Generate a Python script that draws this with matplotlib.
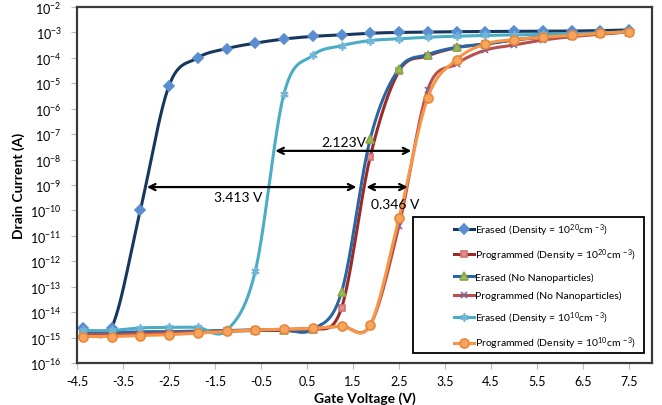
import numpy as np
import matplotlib
matplotlib.use("Agg")
import matplotlib.pyplot as plt
from matplotlib.lines import Line2D
from matplotlib.patches import Rectangle

plt.rcParams['font.family'] = ['Lato', 'DejaVu Sans']
plt.rcParams['mathtext.fontset'] = 'custom'
plt.rcParams['mathtext.rm'] = 'Lato'
plt.rcParams['mathtext.it'] = 'Lato:italic'
plt.rcParams['mathtext.bf'] = 'Lato:bold'

# gate voltage of every measured point (V)
gate_v = [-4.375, -3.75, -3.125, -2.5, -1.875, -1.25, -0.625, 0.0, 0.625, 1.25,
          1.875, 2.5, 3.125, 3.75, 4.375, 5.0, 5.625, 6.25, 6.875, 7.5]

# drain current (A)
erased_1e20 = [2.3e-15, 2.4e-15, 1.0e-10, 8.0e-6, 1.0e-4, 2.3e-4, 3.8e-4, 5.5e-4, 7.0e-4, 8.0e-4,
               9.3e-4, 1.0e-3, 1.02e-3, 1.07e-3, 1.08e-3, 1.1e-3, 1.12e-3, 1.13e-3, 1.18e-3, 1.25e-3]
prog_1e20 = [1.4e-15, 1.4e-15, 1.5e-15, 1.6e-15, 1.7e-15, 1.8e-15, 1.9e-15, 1.9e-15, 2.0e-15, 1.45e-14,
             1.3e-8, 3.0e-5, 1.2e-4, 2.5e-4, 3.5e-4, 5.0e-4, 6.5e-4, 7.8e-4, 9.0e-4, 1.05e-3]
erased_nonp = [1.6e-15, 1.6e-15, 1.7e-15, 1.7e-15, 1.8e-15, 1.9e-15, 2.0e-15, 2.0e-15, 2.1e-15, 6.0e-14,
               6.5e-8, 3.7e-5, 1.35e-4, 2.6e-4, 3.5e-4, 5.2e-4, 6.6e-4, 7.9e-4, 9.2e-4, 1.05e-3]
prog_nonp = [1.3e-15, 1.3e-15, 1.4e-15, 1.5e-15, 1.6e-15, 1.8e-15, 2.0e-15, 2.1e-15, 2.3e-15, 2.8e-15,
             3.1e-15, 2.5e-11, 5.6e-6, 5.8e-5, 2.0e-4, 3.2e-4, 5.0e-4, 6.8e-4, 8.5e-4, 1.05e-3]
erased_1e10 = [1.9e-15, 1.9e-15, 2.4e-15, 2.5e-15, 2.5e-15, 1.9e-15, 4.0e-13, 3.9e-6, 1.25e-4, 3.0e-4,
               4.8e-4, 5.6e-4, 6.5e-4, 7.1e-4, 7.6e-4, 8.0e-4, 8.3e-4, 8.9e-4, 9.5e-4, 1.07e-3]
prog_1e10 = [1.1e-15, 1.1e-15, 1.2e-15, 1.3e-15, 1.5e-15, 1.75e-15, 2.0e-15, 2.1e-15, 2.3e-15, 2.8e-15,
             3.2e-15, 5.0e-11, 2.7e-6, 8.5e-5, 3.5e-4, 5.2e-4, 6.5e-4, 7.6e-4, 9.3e-4, 1.07e-3]

labels = [
    r'Erased (Density = 10$^{20}$cm$^{\,-3}$)',
    r'Programmed (Density = 10$^{20}$cm$^{\,-3}$)',
    'Erased (No Nanoparticles)',
    'Programmed (No Nanoparticles)',
    r'Erased (Density = 10$^{10}$cm$^{\,-3}$)',
    r'Programmed (Density = 10$^{10}$cm$^{\,-3}$)',
]

# shift annotations: (x_left, x_right, current, text, text_x, text_current)
shifts = [
    (-0.19, 2.77, 2.2e-8, '2.123V', 1.29, 4.9e-8),
    (-2.98, 1.575, 8.3e-10, '3.413 V', -1.0, 3.4e-10),
    (1.79, 2.69, 8.3e-10, '0.346 V', 2.42, 1.8e-10),
]


def smooth(x, y, n=24):
    # excel style smoothed line: bezier through the points, done in log space
    px = np.asarray(x, float)
    py = np.log10(np.asarray(y, float))
    pts = np.column_stack([px, py])
    out = []
    t = np.linspace(0, 1, n, endpoint=False)[:, None]
    for i in range(len(pts) - 1):
        p0 = pts[i - 1] if i > 0 else pts[i]
        p1 = pts[i]
        p2 = pts[i + 1]
        p3 = pts[i + 2] if i + 2 < len(pts) else pts[i + 1]
        c1 = p1 + (p2 - p0) / 6
        c2 = p2 - (p3 - p1) / 6
        seg = ((1 - t) ** 3 * p1 + 3 * (1 - t) ** 2 * t * c1
               + 3 * (1 - t) * t ** 2 * c2 + t ** 3 * p2)
        out.append(seg)
    out.append(pts[-1:])
    out = np.vstack(out)
    return out[:, 0], 10 ** out[:, 1]


series = [erased_1e20, prog_1e20, erased_nonp, prog_nonp, erased_1e10, prog_1e10]
styles = [
    dict(lc='#17375E', marker='D', mfc='#5B8ED0', mec='#5B8ED0', ms=5),
    dict(lc='#9B2B28', marker='s', mfc='#E58C89', mec='#D07471', ms=5),
    dict(lc='#2A66A6', marker='^', mfc='#9BBB59', mec='#8AAA4A', ms=6),
    dict(lc='#B9504C', marker='x', mfc='#8064A2', mec='#8064A2', ms=5),
    dict(lc='#4BACC6', marker=(6, 2, 0), mfc='#6FB6D8', mec='#6FB6D8', ms=6),
    dict(lc='#F79646', marker='o', mfc='#F7A45E', mec='#E8873A', ms=6.5),
]

fig = plt.figure(figsize=(6.62, 4.06), dpi=100)
ax = fig.add_axes([77 / 662, 42 / 406, 575 / 662, 356 / 406])

handles = []
for vals, st in zip(series, styles):
    sx, sy = smooth(gate_v, vals)
    ax.plot(sx, sy, color=st['lc'], lw=2.2, solid_capstyle='round')
    ax.plot(gate_v, vals, ls='none', marker=st['marker'], ms=st['ms'],
            mfc=st['mfc'], mec=st['mec'], mew=1.2)
    handles.append(Line2D([], [], color=st['lc'], lw=2.2, marker=st['marker'],
                          ms=st['ms'], mfc=st['mfc'], mec=st['mec'], mew=1.2))

for x0, x1, yv, txt, tx, ty in shifts:
    ax.annotate('', xy=(x0, yv), xytext=(x1, yv),
                arrowprops=dict(arrowstyle='<->', lw=1.6, color='black',
                                shrinkA=0, shrinkB=0, mutation_scale=11))
    ax.text(tx, ty, txt, ha='center', va='center', fontsize=10)

ax.set_yscale('log')
ax.set_xlim(-4.5, 8.0)
ax.set_ylim(1e-16, 1e-2)
ax.set_xticks([-4.5, -3.5, -2.5, -1.5, -0.5, 0.5, 1.5, 2.5, 3.5, 4.5, 5.5, 6.5, 7.5])
ax.set_xticklabels(['-4.5', '-3.5', '-2.5', '-1.5', '-0.5', '0.5', '1.5', '2.5',
                    '3.5', '4.5', '5.5', '6.5', '7.5'])
ax.set_yticks([10.0 ** k for k in range(-16, -1)])
ax.yaxis.set_minor_locator(matplotlib.ticker.NullLocator())
ax.tick_params(axis='both', labelsize=9, length=4, width=0.8, color='#bbbbbb')
ax.tick_params(axis='y', pad=7)
ax.tick_params(axis='x', pad=5)

for sp in ax.spines.values():
    sp.set_color('#3a3a3a')
    sp.set_linewidth(1.6)

ax.set_xlabel('Gate Voltage (V)', fontsize=10, fontweight='bold', labelpad=3)
ax.set_ylabel('Drain Current (A)', fontsize=10, fontweight='bold', labelpad=4)

# legend box
ax.add_patch(Rectangle((336 / 575, 10 / 356), 231 / 575, 136 / 356, transform=ax.transAxes,
                       fill=True, facecolor='white', edgecolor='black', lw=1.3, zorder=5))
leg = ax.legend(handles, labels, loc='upper left', bbox_to_anchor=(377 / 575, 142 / 356),
                frameon=False, fontsize=7.5, handlelength=1.9, handletextpad=0.1,
                labelspacing=0.86, borderpad=0, borderaxespad=0)
leg.set_zorder(6)

fig.savefig('out.png', dpi=100)
